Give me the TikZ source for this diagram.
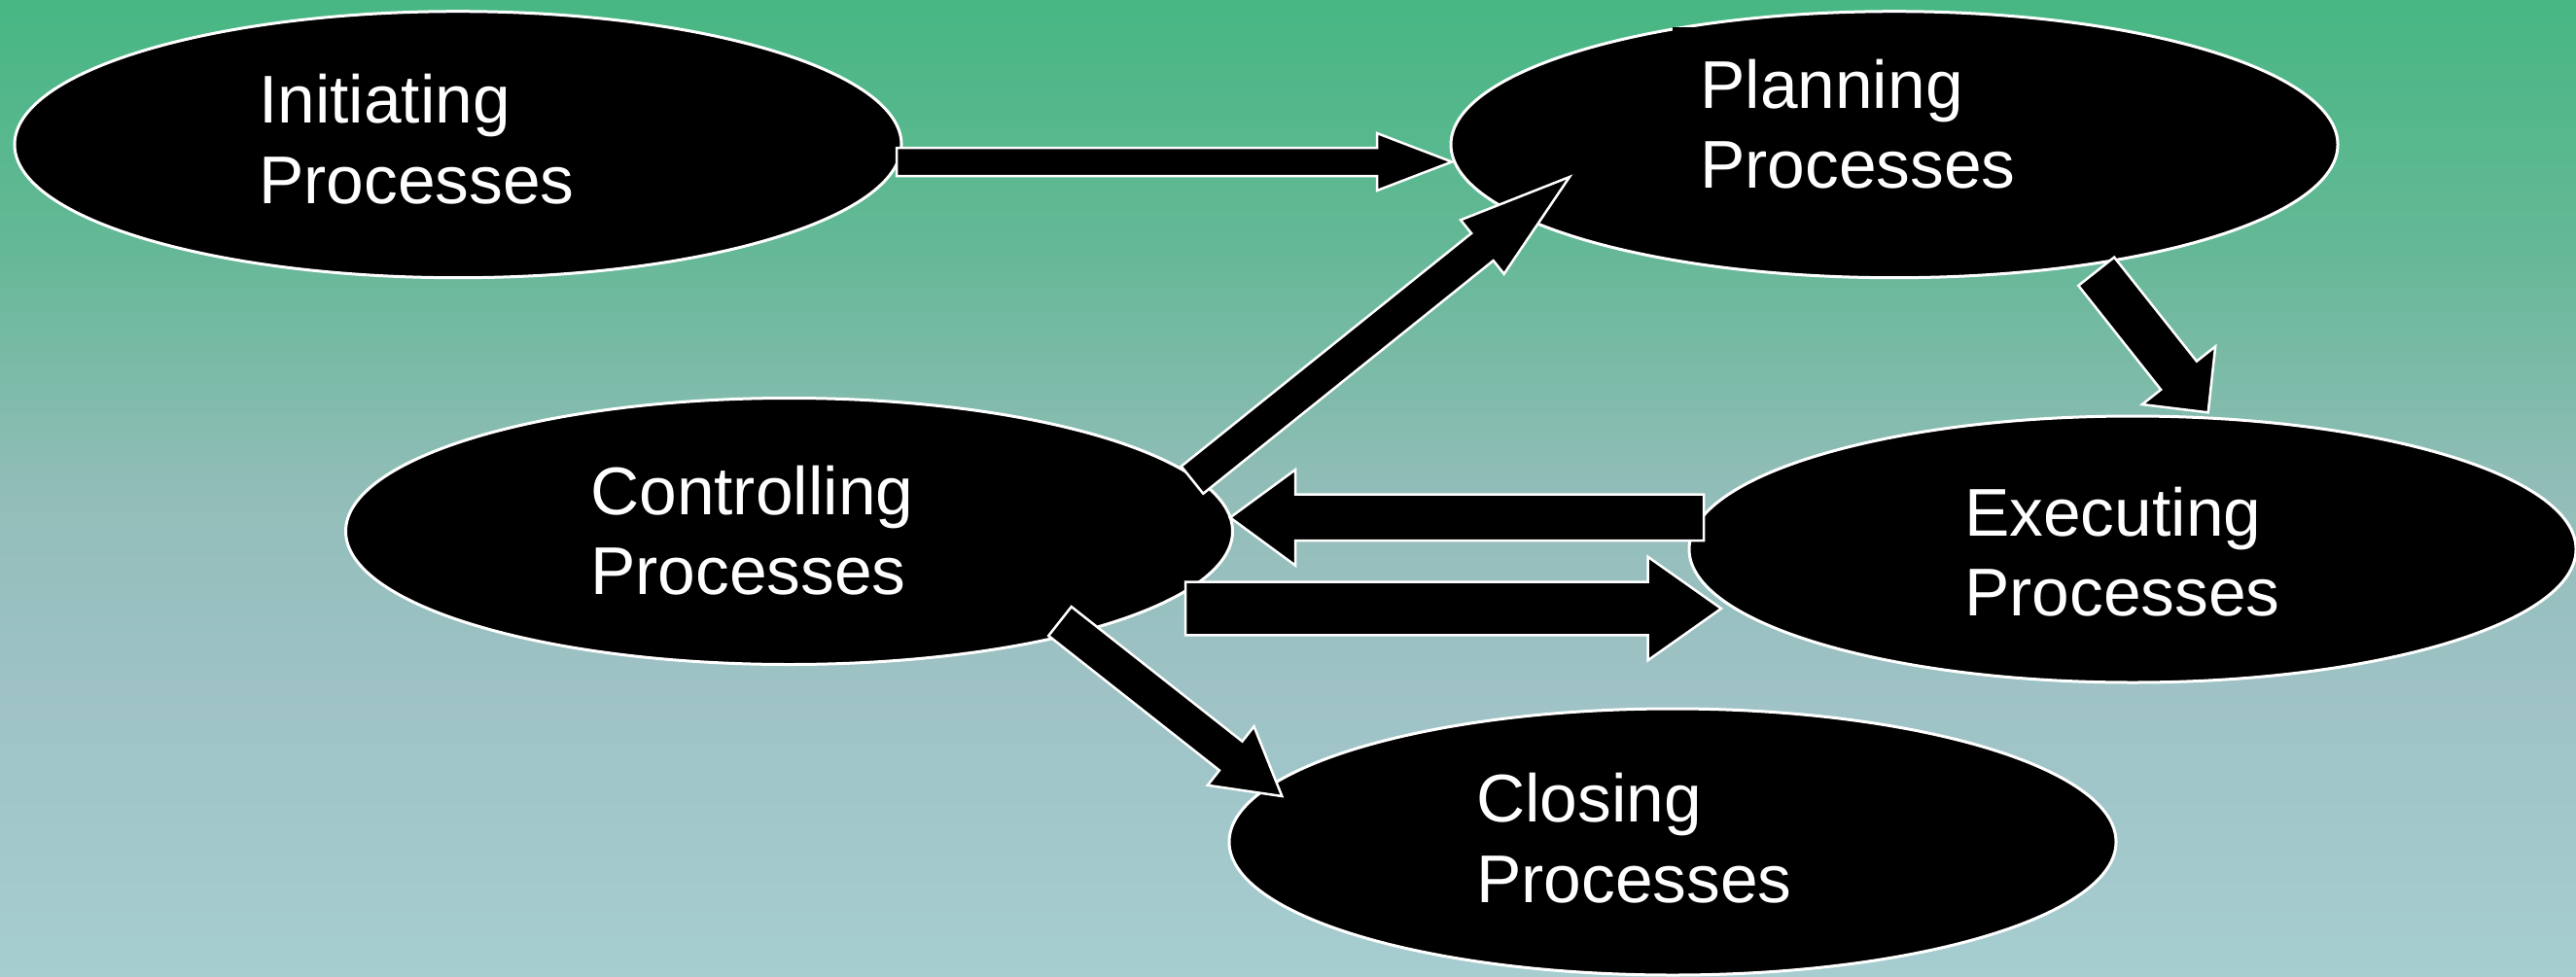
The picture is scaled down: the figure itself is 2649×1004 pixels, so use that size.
\documentclass[tikz,border=0pt]{standalone}
\usepackage{fontspec}
\setmainfont{Liberation Sans}
\usetikzlibrary{calc,shapes.geometric}
\definecolor{bgA}{RGB}{71,183,131}
\definecolor{bgB}{RGB}{100,184,150}
\definecolor{bgC}{RGB}{145,189,184}
\definecolor{bgD}{RGB}{158,194,197}
\definecolor{bgE}{RGB}{166,205,208}
\pgfdeclareverticalshading{bgshade}{100bp}{color(0bp)=(bgE); color(25bp)=(bgE); color(40bp)=(bgD); color(50bp)=(bgC); color(62.5bp)=(bgB); color(75bp)=(bgA); color(100bp)=(bgA)}
\tikzset{
  proc/.style={ellipse, fill=black, draw=white, line width=3pt, minimum width=912pt, minimum height=274pt, inner sep=0pt},
  blk/.style={fill=black, draw=white, line width=2.5pt, line join=miter},
  lbl/.style={text=white, font=\fontsize{69.5}{82.5}\selectfont, inner sep=0pt, anchor=base west},
}
% #1 name, #2 tail, #3 tip, #4 shaft half width, #5 head half width, #6 head length
\newcommand\blockarrow[6]{%
  \coordinate (#1h) at ($(#3)!#6!(#2)$);
  \draw[blk] ($(#2)!#4!90:(#3)$) -- ($(#1h)!#4!90:(#3)$) -- ($(#1h)!#5!90:(#3)$) -- (#3)
    -- ($(#1h)!#5!-90:(#3)$) -- ($(#1h)!#4!-90:(#3)$) -- ($(#2)!#4!-90:(#3)$) -- cycle;
}
\begin{document}
\begin{tikzpicture}[x=1pt,y=-1pt]
\useasboundingbox (0,0) rectangle (2649,1004);
\shade[shading=bgshade] (0,0) rectangle (2649,1004);

% ellipses
\node[proc] (init) at (471,148.7) {};
\node[proc] (plan) at (1948,148.7) {};
\node[proc] (ctrl) at (811.5,546.5) {};
\node[proc] (exec) at (2193,565) {};
\node[proc] (close) at (1720,866) {};
\fill[black] (1720,28.3) rectangle (2100,200);

% arrow end points
\coordinate (a1s) at (922,166.5);   \coordinate (a1e) at (1493,166.5);
\coordinate (a2s) at (1226,493.7);  \coordinate (a2e) at (1614,182);
\coordinate (a3s) at (2155.7,279.2);\coordinate (a3e) at (2270.7,424.3);
\coordinate (a4s) at (1752,532.4);  \coordinate (a4e) at (1265,532.4);
\coordinate (a5s) at (1219,626);    \coordinate (a5e) at (1770,626);
\coordinate (a6s) at (1090,639);    \coordinate (a6e) at (1318.3,819);

\blockarrow{a1}{a1s}{a1e}{14.5pt}{29.5pt}{77pt}
\blockarrow{a2}{a2s}{a2e}{18pt}{35.6pt}{115pt}
\blockarrow{a3}{a3s}{a3e}{23.5pt}{48pt}{48.6pt}
\blockarrow{a4}{a4s}{a4e}{23.7pt}{49.2pt}{67pt}
\blockarrow{a5}{a5s}{a5e}{27.3pt}{53.3pt}{75.5pt}
\blockarrow{a6}{a6s}{a6e}{19pt}{38.5pt}{67pt}

% labels
\node[lbl] (tinit) at (266,126.7) {\begin{tabular}[t]{@{}l@{}}Initiating\\Processes\end{tabular}};
\node[lbl] (tplan) at (1748,111) {\begin{tabular}[t]{@{}l@{}}Planning\\Processes\end{tabular}};
\node[lbl] (tctrl) at (607,529) {\begin{tabular}[t]{@{}l@{}}Controlling\\Processes\end{tabular}};
\node[lbl] (texec) at (2020,551) {\begin{tabular}[t]{@{}l@{}}Executing\\Processes\end{tabular}};
\node[lbl] (tclose) at (1518,845.7) {\begin{tabular}[t]{@{}l@{}}Closing\\Processes\end{tabular}};
\end{tikzpicture}
\end{document}
